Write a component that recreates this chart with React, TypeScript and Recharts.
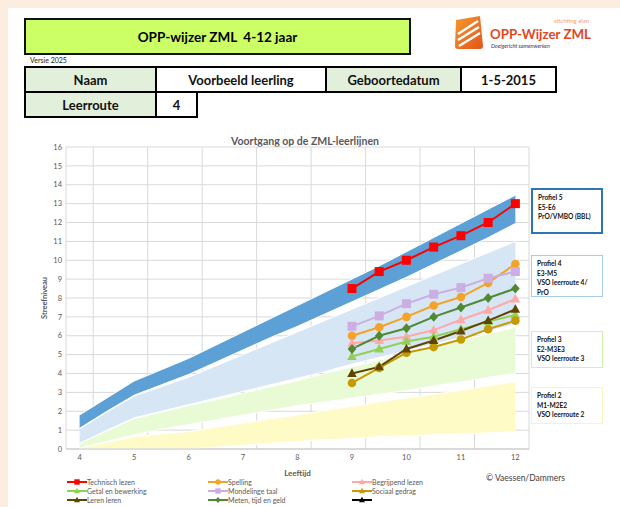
import * as React from 'react';
import { Area, CartesianGrid, ComposedChart, Line, XAxis, YAxis } from 'recharts';

// leeftijden in halve jaren (categorieën van de grafiek)
const ages = [4, 4.5, 5, 5.5, 6, 6.5, 7, 7.5, 8, 8.5, 9, 9.5, 10, 10.5, 11, 11.5, 12];
const gridTicks = [3.75, 4.25, 4.75, 5.25, 5.75, 6.25, 6.75, 7.25, 7.75, 8.25, 8.75, 9.25, 9.75, 10.25, 10.75, 11.25, 11.75, 12.25];
const ageLabels = [4, 5, 6, 7, 8, 9, 10, 11, 12];
const levelTicks = [0, 1, 2, 3, 4, 5, 6, 7, 8, 9, 10, 11, 12, 13, 14, 15, 16];

// profielbanden (onder- en bovengrens per leeftijd)
const profiel5Lo = [1.1, 2.0, 2.85, 3.4, 3.95, 4.6, 5.25, 5.9, 6.5, 7.15, 7.8, 8.45, 9.1, 9.8, 10.5, 11.2, 11.95];
const profiel5Hi = [1.8, 2.7, 3.6, 4.2, 4.8, 5.5, 6.2, 6.9, 7.6, 8.3, 9.0, 9.7, 10.45, 11.2, 11.95, 12.7, 13.45];
const profiel4Lo = [0.3, 1.0, 1.65, 2.0, 2.35, 2.7, 3.05, 3.4, 3.75, 4.1, 4.5, 4.85, 5.2, 5.55, 5.9, 6.25, 6.6];
const profiel4Hi = [1.05, 1.95, 2.8, 3.3, 3.8, 4.4, 5.0, 5.6, 6.2, 6.8, 7.4, 8.0, 8.6, 9.2, 9.8, 10.4, 11.0];
const profiel3Lo = [0.05, 0.4, 0.75, 1.05, 1.3, 1.55, 1.8, 2.05, 2.3, 2.5, 2.7, 2.9, 3.1, 3.35, 3.55, 3.8, 4.0];
const profiel3Hi = [0.3, 0.95, 1.6, 1.95, 2.3, 2.6, 2.95, 3.3, 3.6, 4.0, 4.35, 4.7, 5.05, 5.4, 5.75, 6.1, 6.45];
const profiel2Lo = [0, 0, 0, 0, 0, 0.1, 0.2, 0.3, 0.4, 0.5, 0.55, 0.65, 0.7, 0.75, 0.8, 0.85, 0.92];
const profiel2Hi = [0.05, 0.35, 0.65, 0.8, 0.92, 1.15, 1.37, 1.6, 1.8, 2.05, 2.25, 2.5, 2.7, 2.9, 3.1, 3.35, 3.55];

// leerling, gemeten van 9 t/m 12 jaar
const meetAges = [9, 9.5, 10, 10.5, 11, 11.5, 12];
const technischLezen = [8.5, 9.4, 10.0, 10.7, 11.3, 12.0, 13.0];
const spelling = [6.0, 6.45, 7.0, 7.6, 8.05, 8.8, 9.8];
const begrijpendLezen = [5.6, 5.75, 5.95, 6.3, 6.85, 7.35, 7.95];
const getalEnBewerking = [4.9, 5.3, 5.7, 5.95, 6.35, 6.75, 7.1];
const mondelingeTaal = [6.5, 7.05, 7.7, 8.2, 8.55, 9.05, 9.4];
const sociaalGedrag = [3.5, 4.3, 5.1, 5.4, 5.8, 6.35, 6.8];
const lerenLeren = [4.0, 4.35, 5.3, 5.75, 6.25, 6.8, 7.4];
const metenTijdGeld = [5.3, 6.0, 6.4, 7.0, 7.5, 8.0, 8.5];
const blanco: number[] = [];

type Shape = 'square' | 'circle' | 'triangle' | 'diamond';

const series: { key: string; name: string; color: string; shape: Shape; legendShape: Shape; values: number[] }[] = [
  { key: 'tl', name: 'Technisch lezen', color: '#FF0000', shape: 'square', legendShape: 'square', values: technischLezen },
  { key: 'sp', name: 'Spelling', color: '#F4A329', shape: 'circle', legendShape: 'circle', values: spelling },
  { key: 'bl', name: 'Begrijpend lezen', color: '#FFA8A8', shape: 'triangle', legendShape: 'triangle', values: begrijpendLezen },
  { key: 'gb', name: 'Getal en bewerking', color: '#92D050', shape: 'triangle', legendShape: 'triangle', values: getalEnBewerking },
  { key: 'mt', name: 'Mondelinge taal', color: '#CCAEE2', shape: 'square', legendShape: 'square', values: mondelingeTaal },
  { key: 'sg', name: 'Sociaal gedrag', color: '#C59A05', shape: 'circle', legendShape: 'triangle', values: sociaalGedrag },
  { key: 'll', name: 'Leren leren', color: '#5E4500', shape: 'triangle', legendShape: 'triangle', values: lerenLeren },
  { key: 'mg', name: 'Meten, tijd en geld', color: '#4F8A32', shape: 'diamond', legendShape: 'diamond', values: metenTijdGeld },
  { key: 'xx', name: '', color: '#000000', shape: 'triangle', legendShape: 'triangle', values: blanco },
];

const bands = [
  { key: 'p2', lo: profiel2Lo, hi: profiel2Hi, fill: '#FFFBC6' },
  { key: 'p3', lo: profiel3Lo, hi: profiel3Hi, fill: '#E8FBD4' },
  { key: 'p4', lo: profiel4Lo, hi: profiel4Hi, fill: '#D7E6F5' },
  { key: 'p5', lo: profiel5Lo, hi: profiel5Hi, fill: '#5DA0D6' },
];

const data = ages.map((age, i) => {
  const row: Record<string, number | number[] | null> = { age };
  bands.forEach(b => {
    row[b.key] = [b.lo[i], b.hi[i]];
  });
  const j = meetAges.indexOf(age);
  series.forEach(s => {
    row[s.key] = j >= 0 && s.values[j] !== undefined ? s.values[j] : null;
  });
  return row;
});

function marker(shape: Shape, cx: number, cy: number, r: number, color: string) {
  if (shape === 'square') return <rect x={cx - r} y={cy - r} width={r * 2} height={r * 2} fill={color} />;
  if (shape === 'circle') return <circle cx={cx} cy={cy} r={r} fill={color} />;
  if (shape === 'diamond')
    return <polygon points={`${cx},${cy - r * 1.15} ${cx + r},${cy} ${cx},${cy + r * 1.15} ${cx - r},${cy}`} fill={color} />;
  return <polygon points={`${cx},${cy - r * 1.2} ${cx + r * 1.1},${cy + r * 0.8} ${cx - r * 1.1},${cy + r * 0.8}`} fill={color} />;
}

const makeDot = (shape: Shape, color: string) => (props: any) => {
  const { cx, cy, index, value } = props;
  if (cx == null || cy == null || value == null) return <g key={`d${index}`} />;
  const r = shape === 'square' ? 4.5 : 4.3;
  return <g key={`d${index}`}>{marker(shape, cx, cy, r, color)}</g>;
};

const gray = '#595959';

const cell = (left: number, top: number, width: number, height: number, text: string, label: boolean) => (
  <div
    key={`${left}-${top}`}
    style={{
      position: 'absolute',
      left,
      top,
      width,
      height,
      boxSizing: 'border-box',
      border: '2px solid #000',
      background: label ? '#E2EFDA' : '#fff',
      display: 'flex',
      alignItems: 'center',
      justifyContent: 'center',
      fontWeight: 700,
      fontSize: 13,
      color: '#111',
    }}
  >
    {text}
  </div>
);

const profielen = [
  { top: 188, height: 46, border: '2px solid #2E75B6', lines: ['Profiel 5', 'E5-E6', 'PrO/VMBO (BBL)'] },
  { top: 255, height: 42, border: '1.5px solid #A9CBEA', lines: ['Profiel 4', 'E3-M5', 'VSO leerroute 4/', 'PrO'] },
  { top: 331, height: 37, border: '1.5px solid #CDF2AE', lines: ['Profiel 3', 'E2-M3E3', 'VSO leerroute 3'] },
  { top: 387, height: 37, border: '1.5px solid #FDF3BC', lines: ['Profiel 2', 'M1-M2E2', 'VSO leerroute 2'] },
];

export default function App() {
  return (
    <div
      style={{
        position: 'absolute',
        left: 0,
        top: 0,
        width: 620,
        height: 507,
        overflow: 'hidden',
        background: '#FBEEE1',
        fontFamily: 'Lato, "Open Sans", sans-serif',
      }}
    >
      <div style={{ position: 'absolute', left: 8, top: 8, width: 612, height: 499, background: '#fff' }} />

      {/* kop */}
      <div
        style={{
          position: 'absolute',
          left: 24,
          top: 18,
          width: 387,
          height: 37,
          boxSizing: 'border-box',
          border: '2px solid #111',
          background: '#CCFF66',
          display: 'flex',
          alignItems: 'center',
          justifyContent: 'center',
          fontWeight: 700,
          fontSize: 13.5,
          whiteSpace: 'pre',
        }}
      >
        {'OPP-wijzer ZML  4-12 jaar'}
      </div>
      <div style={{ position: 'absolute', left: 30, top: 56, fontSize: 7, color: '#222' }}>Versie 2025</div>

      {cell(24, 66, 133, 27, 'Naam', true)}
      {cell(155, 66, 172, 27, 'Voorbeeld leerling', false)}
      {cell(325, 66, 137, 27, 'Geboortedatum', true)}
      {cell(460, 66, 97, 27, '1-5-2015', false)}
      {cell(24, 91, 133, 27, 'Leerroute', true)}
      {cell(155, 91, 43, 27, '4', false)}

      {/* logo */}
      <svg style={{ position: 'absolute', left: 450, top: 12 }} width={160} height={42}>
        <defs>
          <linearGradient id="lg" x1="0" y1="0" x2="1" y2="1">
            <stop offset="0" stopColor="#F39A2E" />
            <stop offset="1" stopColor="#E4541B" />
          </linearGradient>
        </defs>
        <path d="M6 8 L30 4 L33 34 Q33 37 30 37 L8 37 Q5 37 5 34 Z" fill="url(#lg)" />
        <path d="M8 22 L28 9 M8 28 L29 15 M9 34 L30 21" stroke="#fff" strokeWidth={2.5} />
        <text x={104} y={11} fontSize={6} fill="#F2A27A" fontFamily="Lato, sans-serif">stichting elan</text>
        <text x={40} y={27} fontSize={13.3} fontWeight={700} fill="#E2461E" fontFamily="Lato, sans-serif">OPP-Wijzer ZML</text>
        <text x={41} y={36} fontSize={5.5} fontStyle="italic" fill="#2C3A78" fontFamily="Lato, sans-serif">Doelgericht samenwerken</text>
      </svg>

      {/* titel grafiek */}
      <div
        style={{
          position: 'absolute',
          left: 150,
          width: 310,
          top: 135,
          textAlign: 'center',
          fontSize: 10.5,
          fontWeight: 700,
          color: gray,
        }}
      >
        Voortgang op de ZML-leerlijnen
      </div>

      <div style={{ position: 'absolute', left: 0, top: 120 }}>
        <ComposedChart width={620} height={387} data={data} margin={{ top: 27, right: 91, bottom: 28, left: 36 }}>
          <XAxis xAxisId="grid" dataKey="age" type="number" domain={[3.75, 12.25]} ticks={gridTicks} hide />
          <CartesianGrid xAxisId="grid" stroke="#D9D9D9" strokeWidth={1} />
          <XAxis
            dataKey="age"
            type="number"
            domain={[3.75, 12.25]}
            ticks={ageLabels}
            interval={0}
            height={30}
            tickLine={false}
            tickSize={4}
            tickMargin={2}
            axisLine={{ stroke: '#C8C8C8' }}
            tick={{ fill: gray, fontSize: 7.5 }}
            label={{ value: 'Leeftijd', position: 'insideBottom', offset: 3, fill: gray, fontSize: 8, fontWeight: 700 }}
          />
          <YAxis
            type="number"
            domain={[0, 16]}
            ticks={levelTicks}
            interval={0}
            width={30}
            axisLine={false}
            tickLine={false}
            tickSize={2}
            tickMargin={2}
            tick={{ fill: gray, fontSize: 7.5 }}
            label={{
              value: 'Streefniveau',
              angle: -90,
              position: 'insideLeft',
              offset: 8,
              fill: gray,
              fontSize: 7.5,
              fontWeight: 700,
              style: { textAnchor: 'middle' },
            }}
          />
          {bands.map(b => (
            <Area
              key={b.key}
              dataKey={b.key}
              type="linear"
              fill={b.fill}
              fillOpacity={1}
              stroke="#ffffff"
              strokeWidth={1}
              legendType="none"
              activeDot={false}
              dot={false}
              isAnimationActive={false}
            />
          ))}
          {series.map(s => (
            <Line
              key={s.key}
              dataKey={s.key}
              name={s.name}
              type="linear"
              stroke={s.color}
              strokeWidth={2}
              dot={makeDot(s.shape, s.color)}
              activeDot={false}
              isAnimationActive={false}
            />
          ))}
        </ComposedChart>
      </div>

      {/* profielkaders */}
      {profielen.map(p => (
        <div
          key={p.lines[0]}
          style={{
            position: 'absolute',
            left: 531,
            top: p.top,
            width: 72,
            height: p.height,
            boxSizing: 'border-box',
            border: p.border,
            background: '#fff',
            padding: '3px 0 0 5px',
            fontSize: 6.6,
            fontWeight: 700,
            lineHeight: '9.7px',
            color: '#111',
          }}
        >
          {p.lines.map(l => (
            <div key={l}>{l}</div>
          ))}
        </div>
      ))}

      {/* legenda */}
      {series.map((s, i) => {
        const col = i % 3;
        const row = Math.floor(i / 3);
        const left = [67, 208, 352][col];
        const top = 482 + row * 9;
        return (
          <div key={s.key} style={{ position: 'absolute', left, top: top - 5, height: 10, display: 'flex', alignItems: 'center' }}>
            <svg width={20} height={10}>
              <line x1={0} y1={5} x2={20} y2={5} stroke={s.color} strokeWidth={2} />
              {marker(s.legendShape, 10, 5, 2.7, s.color)}
            </svg>
            <span style={{ fontSize: 7, color: gray, marginLeft: 0 }}>{s.name}</span>
          </div>
        );
      })}

      <div style={{ position: 'absolute', left: 486, top: 473, fontSize: 8.5, color: '#404040' }}>© Vaessen/Dammers</div>
    </div>
  );
}
